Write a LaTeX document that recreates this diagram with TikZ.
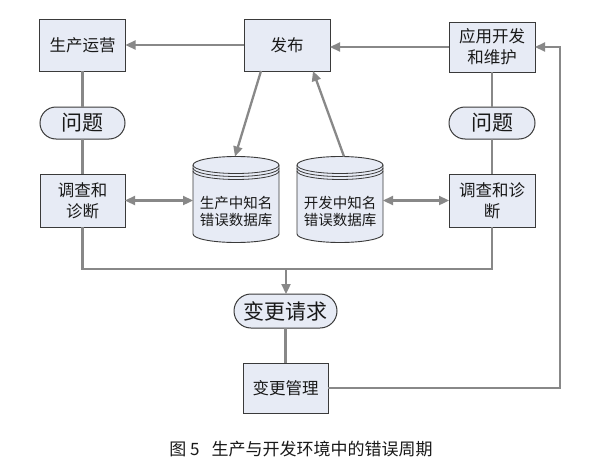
\documentclass[tikz,border=0pt]{standalone}
\usepackage{fontspec}
\newfontfamily\cjk{Noto Sans CJK SC}
\usetikzlibrary{arrows.meta,calc}
\definecolor{boxfill}{HTML}{E7EBF5}
\definecolor{boxline}{HTML}{3A3A3A}
\definecolor{connc}{HTML}{888888}
\newcommand\dbdraw[1]{%
  \draw[draw=boxline, fill=boxfill, line width=0.9pt]
    ([yshift=-8.5pt]#1.north west) -- ([yshift=8.5pt]#1.south west)
    arc[start angle=180,end angle=360,x radius=43pt,y radius=8.5pt]
    -- ([yshift=-8.5pt]#1.north east)
    arc[start angle=0,end angle=180,x radius=43pt,y radius=8.5pt] -- cycle;
  \draw[draw=boxline, line width=0.8pt] ([yshift=-8.5pt]#1.north west)
    arc[start angle=180,end angle=360,x radius=43pt,y radius=8.5pt];
  \draw[draw=boxline, line width=0.8pt] ([yshift=-11.5pt]#1.north west)
    arc[start angle=180,end angle=360,x radius=43pt,y radius=8.5pt];
  \draw[draw=boxline, line width=0.8pt] ([yshift=-14.5pt]#1.north west)
    arc[start angle=180,end angle=360,x radius=43pt,y radius=8.5pt];
}
\begin{document}
\begin{tikzpicture}[x=1pt,y=-1pt,
  mybox/.style={draw=boxline, fill=boxfill, line width=1pt, minimum width=86pt,
    minimum height=52pt, inner sep=0pt, outer sep=0pt, align=center,
    font=\cjk\fontsize{16.5pt}{21pt}\selectfont, text=black!90},
  term/.style={mybox, minimum height=32pt, rounded corners=16pt,
    font=\cjk\fontsize{21pt}{24pt}\selectfont},
  dbnode/.style={rectangle, minimum width=86pt, minimum height=86pt, inner sep=0pt, outer sep=0pt},
  dbtext/.style={align=center, inner sep=0pt, font=\cjk\fontsize{14.5pt}{17pt}\selectfont, text=black!90},
  capt/.style={inner sep=0pt, font=\cjk\fontsize{17pt}{20pt}\selectfont, text=black!90},
  cline/.style={draw=connc, line width=2.3pt},
  arr/.style={cline, -{Triangle[length=10pt,width=9pt]}},
  dbl/.style={cline, {Triangle[length=10pt,width=9pt]}-{Triangle[length=10pt,width=9pt]}}
]
\useasboundingbox[fill=white] (0,0) rectangle (589,471);

\node[mybox] (prod) at (82.5,45) {生产运营};
\node[mybox] (pub) at (287,45) {发布};
\node[mybox, minimum height=50pt] (dev) at (492,47) {应用开发\\和维护};
\node[term, minimum width=85pt] (q1) at (82.5,123) {问题};
\node[term] (q2) at (492,123) {问题};
\node[mybox, minimum height=53pt, minimum width=85pt] (inv1) at (82.5,200.5) {调查和\\诊断};
\node[mybox, minimum height=53pt] (inv2) at (492,200.5) {调查和诊\\断};
\node[dbnode] (db1) at (236,199.5) {};
\node[dbnode] (db2) at (340,199.5) {};
\dbdraw{db1}
\dbdraw{db2}
\node[dbtext] (db1t) at ($(db1)+(0,12)$) {生产中知名\\错误数据库};
\node[dbtext] (db2t) at ($(db2)+(0,12)$) {开发中知名\\错误数据库};
\node[term, minimum width=103pt, minimum height=34pt, rounded corners=17pt] (cr) at (285.5,311) {变更请求};
\node[mybox, minimum height=50pt, minimum width=85pt] (cm) at (285.5,388) {变更管理};
\node[capt] (cap) at (301,449) {图 5\hspace{0.7em}生产与开发环境中的错误周期};

\coordinate (j) at (286,269);
\coordinate (r) at (560,388);

\draw[cline] (prod) -- (q1);
\draw[cline] (q1) -- (inv1);
\draw[cline] (dev) -- (q2);
\draw[cline] (q2) -- (inv2);
\draw[cline] (inv1.south) |- (j) -| (inv2.south);
\draw[arr] (j) -- (j |- cr.north);
\draw[cline] (cr) -- (cm);
\draw[arr] (cm.east) -- (r) |- (dev.east);
\draw[arr] (pub) -- (prod);
\draw[arr] (dev.west) -- (dev.west -| pub.east);
\draw[arr] ([xshift=-26pt]pub.south) -- ([xshift=-1pt]db1.north);
\draw[arr] ([xshift=4pt]db2.north) -- ([xshift=26pt]pub.south);
\draw[dbl] (inv1.east) -- (inv1.east -| db1.west);
\draw[dbl] (inv2.west -| db2.east) -- (inv2.west);
\end{tikzpicture}
\end{document}
